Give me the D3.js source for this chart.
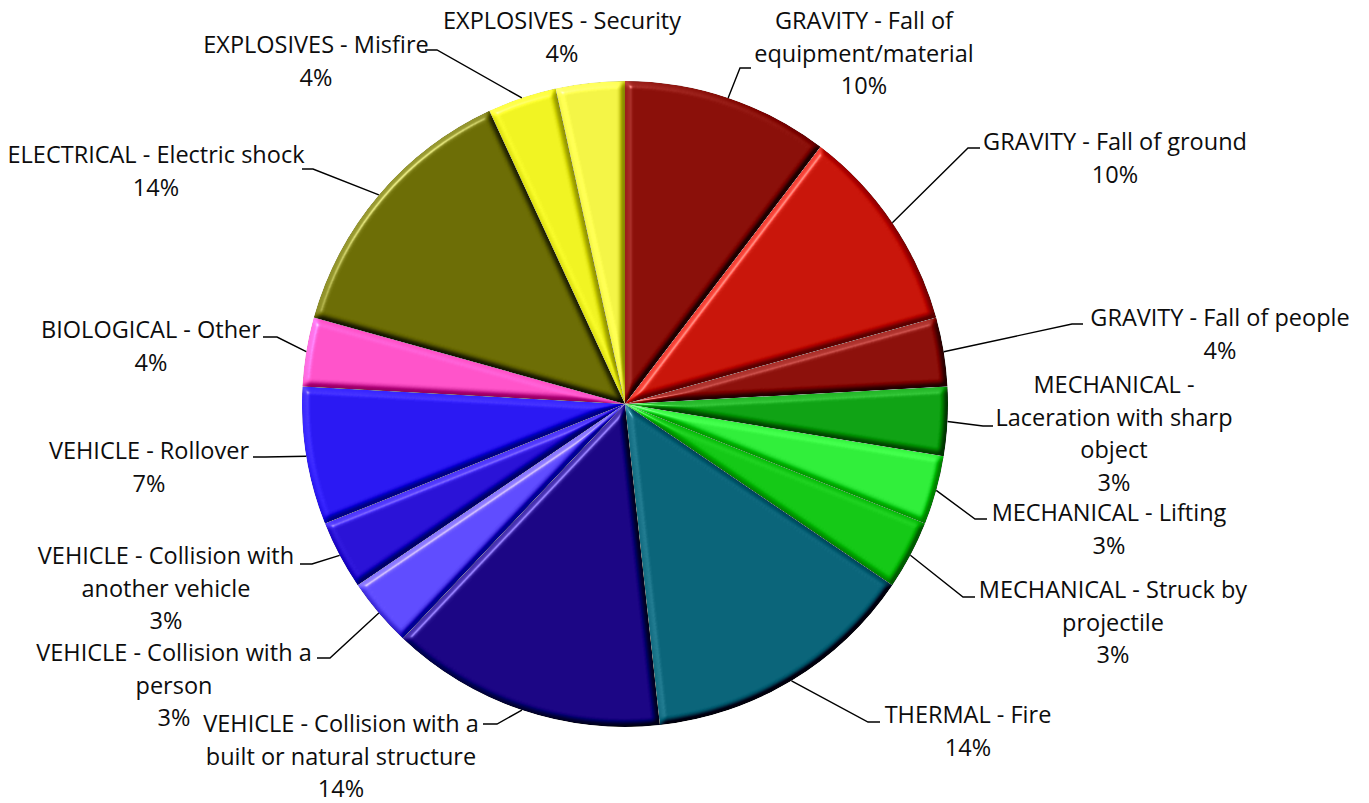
<!DOCTYPE html>
<html><head><meta charset="utf-8">
<script src="https://cdn.jsdelivr.net/npm/d3@7"></script>
<style>html,body{margin:0;padding:0;background:#fff;}svg{display:block;}</style>
</head><body><svg id="chart" width="1369" height="803"></svg>
<script>
// ---- data ----
const categories = [
  "GRAVITY - Fall of equipment/material",
  "GRAVITY - Fall of ground",
  "GRAVITY - Fall of people",
  "MECHANICAL - Laceration with sharp object",
  "MECHANICAL - Lifting",
  "MECHANICAL - Struck by projectile",
  "THERMAL - Fire",
  "VEHICLE - Collision with a built or natural structure",
  "VEHICLE - Collision with a person",
  "VEHICLE - Collision with another vehicle",
  "VEHICLE - Rollover",
  "BIOLOGICAL - Other",
  "ELECTRICAL - Electric shock",
  "EXPLOSIVES - Misfire",
  "EXPLOSIVES - Security"
];
const values = [3, 3, 1, 1, 1, 1, 4, 4, 1, 1, 2, 1, 4, 1, 1];
const pctLabels = ["10%", "10%", "4%", "3%", "3%", "3%", "14%", "14%", "3%", "3%", "7%", "4%", "14%", "4%", "4%"];

// ---- styles / layout ----
const colors = ["#8a0f09", "#c8150a", "#8c100b", "#0fa214", "#30ee3a", "#14c816", "#0a6479",
                "#1b0584", "#5f4cff", "#2a12d6", "#2a18f2", "#ff53c9", "#6c6d05", "#f0f322", "#f3f446"];
// wrapped label lines (as the reference wraps them) and label layout
const labelWrap = [
  ["GRAVITY - Fall of", "equipment/material"],
  ["GRAVITY - Fall of ground"],
  ["GRAVITY - Fall of people"],
  ["MECHANICAL -", "Laceration with sharp", "object"],
  ["MECHANICAL - Lifting"],
  ["MECHANICAL - Struck by", "projectile"],
  ["THERMAL - Fire"],
  ["VEHICLE - Collision with a", "built or natural structure"],
  ["VEHICLE - Collision with a", "person"],
  ["VEHICLE - Collision with", "another vehicle"],
  ["VEHICLE - Rollover"],
  ["BIOLOGICAL - Other"],
  ["ELECTRICAL - Electric shock"],
  ["EXPLOSIVES - Misfire"],
  ["EXPLOSIVES - Security"]
];
const labelCenter = [[864,20],[1115,141],[1220,317],[1114,384],[1109,512],[1113,589],[968,714],
                     [341,723],[174,652],[166,555],[149,450],[151,329],[156,154],[316,44],[562,20]];
const leaderElbow = [[740,68],[968,148],[1072,324],[983,426],[975,519],[963,597],[868,722],
                     [497,724],[330,658],[312,564],[265,457],[277,337],[313,169],[437,50],null];
const leaderEnd   = [[751,68],[980,148],[1083,324],[993,426],[987,519],[975,597],[880,722],
                     [483,724],[317,658],[300,564],[253,457],[263,337],[302,169],[425,50],null];

const cx = 625, cy = 404, R = 323;
const lineH = 32.5;

const svg = d3.select("#chart");
const defs = svg.append("defs");

// bevel filter (Excel-like circle bevel)
const f = defs.append("filter").attr("id","bevel").attr("x","-5%").attr("y","-5%").attr("width","110%").attr("height","110%")
  .attr("color-interpolation-filters","sRGB");
f.append("feGaussianBlur").attr("in","SourceAlpha").attr("stdDeviation",3.2).attr("result","blur");
const dl = f.append("feDiffuseLighting").attr("in","blur").attr("surfaceScale",6).attr("diffuseConstant",1)
  .attr("lighting-color","#ffffff").attr("result","diff");
dl.append("feDistantLight").attr("azimuth",225).attr("elevation",45);
// src + (diff - flat)*k
f.append("feComposite").attr("in","SourceGraphic").attr("in2","diff").attr("operator","arithmetic")
  .attr("k1",0).attr("k2",1).attr("k3",0.6).attr("k4",-0.6*Math.sin(Math.PI/4)).attr("result","lit");
const sl = f.append("feSpecularLighting").attr("in","blur").attr("surfaceScale",6).attr("specularConstant",0.7)
  .attr("specularExponent",45).attr("lighting-color","#ffffff").attr("result","spec");
sl.append("feDistantLight").attr("azimuth",225).attr("elevation",40);
f.append("feComposite").attr("in","lit").attr("in2","spec").attr("operator","arithmetic")
  .attr("k1",0).attr("k2",1).attr("k3",0.5).attr("k4",0).attr("result","lit2");
f.append("feComposite").attr("in","lit2").attr("in2","SourceAlpha").attr("operator","in");

const pie = d3.pie().sort(null).value(d => d)(values);
const arc = d3.arc().innerRadius(0).outerRadius(R);

const g = svg.append("g").attr("transform", `translate(${cx},${cy})`);
g.selectAll("path.slice").data(pie).join("path")
  .attr("class","slice")
  .attr("d", arc)
  .attr("fill", (d,i) => colors[i])
  .attr("filter","url(#bevel)");

// leader lines
const lg = svg.append("g");
pie.forEach((d,i) => {
  if (!leaderElbow[i]) return;
  const a = (d.startAngle + d.endAngle) / 2;
  const sx = cx + R * Math.sin(a), sy = cy - R * Math.cos(a);
  lg.append("polyline")
    .attr("points", [[sx,sy], leaderElbow[i], leaderEnd[i]].map(p => p.join(",")).join(" "))
    .attr("fill","none").attr("stroke","#000").attr("stroke-width",1.4);
});

// labels
const tg = svg.append("g")
  .attr("font-family","'Open Sans', Lato, sans-serif")
  .attr("font-size",23.5).attr("fill","#0d0d0d").attr("text-anchor","middle");
categories.forEach((c,i) => {
  const lines = labelWrap[i].concat([pctLabels[i]]);
  const t = tg.append("text").attr("x", labelCenter[i][0]).attr("y", labelCenter[i][1])
    .attr("dominant-baseline","central");
  lines.forEach((ln,k) => {
    t.append("tspan").attr("x", labelCenter[i][0]).attr("y", labelCenter[i][1] + k*lineH).text(ln);
  });
});
</script></body></html>
